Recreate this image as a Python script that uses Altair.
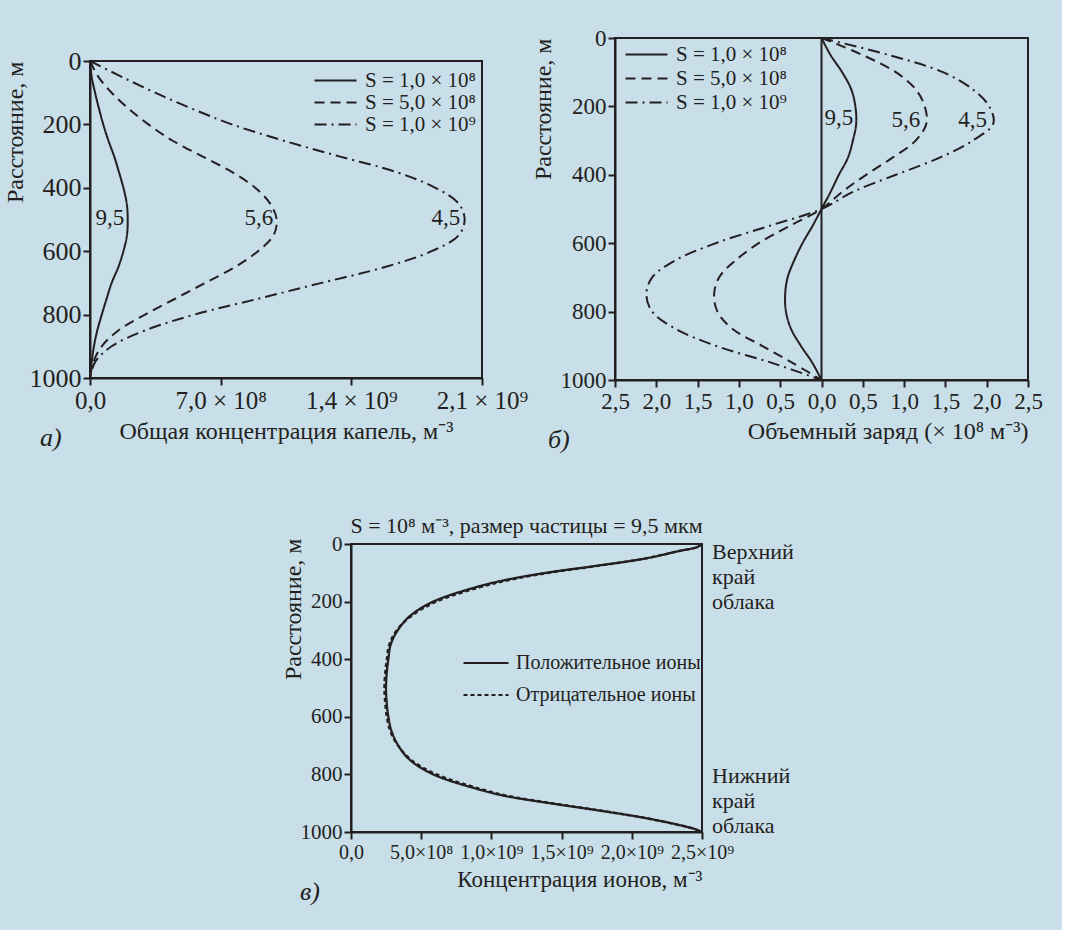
import altair as alt
import pandas as pd

FONT = "Liberation Serif"
INK = "#231f20"
BG = "#c8dee8"

# ---------------- data ----------------
heights = [0, 50, 100, 150, 200, 250, 300, 350, 400, 450, 500,
           550, 600, 650, 700, 750, 800, 850, 900, 950, 1000]

# Panel a: total droplet concentration, units of 1e8 m^-3
a_names = ["S = 1,0 × 10⁸", "S = 5,0 × 10⁸", "S = 1,0 × 10⁹"]
a_s1 = [0, 0.09, 0.27, 0.48, 0.71, 0.98, 1.29, 1.55, 1.79, 1.97, 2.02,
        1.98, 1.79, 1.52, 1.16, 0.89, 0.63, 0.39, 0.21, 0.09, 0]
a_s2 = [0, 0.45, 1.16, 2.06, 3.13, 4.38, 5.99, 7.6, 8.85, 9.65, 10.0,
        9.83, 9.0, 7.77, 6.17, 4.56, 2.95, 1.52, 0.63, 0.18, 0]
a_s3 = [0, 1.7, 3.49, 5.45, 7.6, 10.3, 13.3, 16.4, 18.5, 19.75, 20.07,
        19.75, 18.3, 15.8, 12.4, 9.0, 5.6, 2.95, 1.16, 0.27, 0]
a_ticks = [0, 7, 14, 21]
a_tick_labels = ["0,0", "7,0 × 10⁸", "1,4 × 10⁹", "2,1 × 10⁹"]
a_ann_text = ["9,5", "5,6", "4,5"]
a_ann_x = [1.07, 9.05, 19.07]
a_ann_y = [495, 495, 495]

# Panel b: space charge, units of 1e8 m^-3
b_s1 = [0, 0.11, 0.25, 0.36, 0.41, 0.42, 0.38, 0.32, 0.21, 0.11, 0,
        -0.11, -0.23, -0.33, -0.41, -0.44, -0.43, -0.37, -0.25, -0.11, 0]
b_s2 = [0, 0.50, 0.90, 1.14, 1.25, 1.27, 1.14, 0.86, 0.54, 0.25, 0,
        -0.39, -0.76, -1.04, -1.24, -1.30, -1.26, -1.08, -0.72, -0.35, 0]
b_s3 = [0, 0.82, 1.47, 1.83, 2.03, 2.08, 1.83, 1.43, 0.90, 0.38, 0,
        -0.64, -1.28, -1.77, -2.05, -2.12, -2.05, -1.77, -1.28, -0.60, 0]
b_ticks = [-2.5, -2.0, -1.5, -1.0, -0.5, 0.0, 0.5, 1.0, 1.5, 2.0, 2.5]
b_ann_text = ["9,5", "5,6", "4,5"]
b_ann_x = [0.21, 1.02, 1.83]
b_ann_y = [234, 239, 239]

# Panel c: ion concentration, units of 1e9 m^-3
c_names = ["Положительное ионы", "Отрицательное ионы"]
c_heights = [0, 10, 25, 50, 75, 100, 125, 150, 200, 250, 300, 350, 400, 450, 500,
             550, 600, 650, 700, 750, 800, 850, 875, 900, 925, 950, 975, 990, 1000]
c_pos = [2.5, 2.47, 2.33, 2.10, 1.76, 1.39, 1.10, 0.89, 0.586, 0.42, 0.332, 0.282, 0.266, 0.254, 0.249,
         0.254, 0.266, 0.289, 0.337, 0.42, 0.586, 0.894, 1.10, 1.416, 1.76, 2.08, 2.33, 2.45, 2.5]
c_neg = [2.5, 2.47, 2.33, 2.10, 1.77, 1.41, 1.13, 0.92, 0.61, 0.43, 0.325, 0.272, 0.255, 0.243, 0.238,
         0.243, 0.255, 0.28, 0.335, 0.43, 0.61, 0.92, 1.12, 1.43, 1.77, 2.08, 2.33, 2.45, 2.5]
c_ticks = [0, 0.5, 1.0, 1.5, 2.0, 2.5]
c_tick_labels = ["0,0", "5,0×10⁸", "1,0×10⁹", "1,5×10⁹", "2,0×10⁹", "2,5×10⁹"]
c_edge_top = ["Верхний", "край", "облака"]
c_edge_bottom = ["Нижний", "край", "облака"]

y_ticks = [0, 200, 400, 600, 800, 1000]
dash_range = [[1, 0], [10, 6], [12, 5, 2, 5]]


def label_expr(values, labels):
    expr = "''"
    for v, l in reversed(list(zip(values, labels))):
        expr = f"abs(datum.value - {v}) < 1e-6 ? '{l}' : ({expr})"
    return expr


def y_enc(label_size, title_x, title_y=0):
    return alt.Y("h:Q",
                 scale=alt.Scale(domain=[0, 1000], reverse=True, nice=False, zero=False),
                 axis=alt.Axis(values=y_ticks, format="d", title="Расстояние, м",
                               titleX=title_x, titleY=title_y, titleAngle=270,
                               titleAlign="right", titleBaseline="bottom",
                               labelFontSize=label_size, titleFontSize=24, tickSize=7,
                               labelPadding=2, grid=False, titleFontWeight="normal"))


def long_df(hs, series, names):
    rows = []
    for name, vals in zip(names, series):
        for h, v in zip(hs, vals):
            rows.append({"h": h, "v": v, "s": name})
    return pd.DataFrame(rows)


def tag(text, px, py):
    return alt.Chart(pd.DataFrame({"t": [text]})).mark_text(
        font=FONT, fontSize=26, fontStyle="italic", color=INK, align="left", baseline="middle"
    ).encode(text="t:N", x=alt.value(px), y=alt.value(py))


def legend(size, font_size, label_offset, row_pad, lx, ly):
    return alt.Legend(orient="none", legendX=lx, legendY=ly, title=None,
                      labelFontSize=font_size, symbolType="M-3,0H3", symbolSize=size,
                      symbolStrokeWidth=2, symbolStrokeColor=INK, labelOffset=label_offset,
                      rowPadding=row_pad, labelColor=INK, labelLimit=400)


def blank(w, h):
    return alt.Chart(pd.DataFrame({"v": [0]})).mark_point(opacity=0).encode(
        x=alt.X("v:Q", axis=None), y=alt.Y("v:Q", axis=None)
    ).properties(width=w, height=h, view=alt.ViewBackground(strokeOpacity=0))


def indep(c):
    return c.resolve_scale(strokeDash="independent", x="independent", y="independent"
                           ).resolve_legend(strokeDash="independent")


# ---------------- panel a ----------------
A_W, A_H = 392, 317
df_a = long_df(heights, [a_s1, a_s2, a_s3], a_names)
lines_a = alt.Chart(df_a).mark_line(color=INK, strokeWidth=2, interpolate="catmull-rom").encode(
    x=alt.X("v:Q", scale=alt.Scale(domain=[0, 21], nice=False),
            axis=alt.Axis(values=a_ticks, labelExpr=label_expr(a_ticks, a_tick_labels),
                          title="Общая концентрация капель, м⁻³", labelFontSize=25,
                          titleFontSize=24, tickSize=7, labelPadding=3, titlePadding=6,
                          grid=False, titleFontWeight="normal", labelFlush=False)),
    y=y_enc(26, -63),
    order="h:Q",
    strokeDash=alt.StrokeDash("s:N", scale=alt.Scale(domain=a_names, range=dash_range),
                              legend=legend(196, 21, 19, 0, 235, 9)),
)
ann_a = alt.Chart(pd.DataFrame({"t": a_ann_text, "v": a_ann_x, "h": a_ann_y})).mark_text(
    font=FONT, fontSize=23, color=INK).encode(x="v:Q", y="h:Q", text="t:N")
chart_a = alt.layer(lines_a, ann_a, tag("а)", -50, A_H + 60)).properties(
    width=A_W, height=A_H)
col_a = indep(alt.vconcat(blank(10, 9), chart_a, spacing=0))

# ---------------- panel b ----------------
B_W, B_H = 413, 342
df_b = long_df(heights, [b_s1, b_s2, b_s3], a_names)
lines_b = alt.Chart(df_b).mark_line(color=INK, strokeWidth=2, interpolate="catmull-rom").encode(
    x=alt.X("v:Q", scale=alt.Scale(domain=[-2.5, 2.5], nice=False),
            axis=alt.Axis(values=b_ticks,
                          labelExpr="replace(format(abs(datum.value), '.1f'), '.', ',')",
                          title="Объемный заряд (× 10⁸ м⁻³)", titleAnchor="end",
                          labelFontSize=23, titleFontSize=24, tickSize=7, labelPadding=3,
                          titlePadding=6, grid=False, titleFontWeight="normal", labelFlush=False)),
    y=y_enc(23, -60),
    order="h:Q",
    strokeDash=alt.StrokeDash("s:N", scale=alt.Scale(domain=a_names, range=dash_range),
                              legend=legend(196, 21, 19, 2, 21, 6)),
)
zero_b = alt.Chart(pd.DataFrame({"z": [0]})).mark_rule(color=INK, strokeWidth=2).encode(x="z:Q")
ann_b = alt.Chart(pd.DataFrame({"t": b_ann_text, "v": b_ann_x, "h": b_ann_y})).mark_text(
    font=FONT, fontSize=23, color=INK).encode(x="v:Q", y="h:Q", text="t:N")
chart_b = alt.layer(zero_b, lines_b, ann_b, tag("б)", -67, B_H + 60)).properties(
    width=B_W, height=B_H)

# ---------------- panel c ----------------
C_W, C_H = 351, 288
df_c = long_df(c_heights, [c_pos, c_neg], c_names)
lines_c = alt.Chart(df_c).mark_line(color=INK, strokeWidth=2.3, interpolate="catmull-rom").encode(
    x=alt.X("v:Q", scale=alt.Scale(domain=[0, 2.5], nice=False),
            axis=alt.Axis(values=c_ticks, labelExpr=label_expr(c_ticks, c_tick_labels),
                          title="Концентрация ионов, м⁻³", titleAnchor="end",
                          labelFontSize=20, titleFontSize=23, tickSize=7, labelPadding=3,
                          titlePadding=6, grid=False, titleFontWeight="normal", labelFlush=False)),
    y=y_enc(21, -46, -6),
    order="h:Q",
    strokeDash=alt.StrokeDash("s:N", scale=alt.Scale(domain=c_names, range=[[1, 0], [4, 3]]),
                              legend=legend(225, 20, 20, 12, 125, 109)),
)
edge_df = pd.DataFrame({"t": [c_edge_top, c_edge_bottom], "h": [0, 1000], "v": [2.5, 2.5],
                        "b": ["top", "bottom"]})
edge_base = alt.Chart(edge_df).encode(x="v:Q", y="h:Q", text="t")
edge_top = edge_base.transform_filter("datum.b == 'top'").mark_text(
    font=FONT, fontSize=22, color=INK, align="left", dx=10, lineHeight=25, baseline="top", dy=-2)
edge_bot = edge_base.transform_filter("datum.b == 'bottom'").mark_text(
    font=FONT, fontSize=22, color=INK, align="left", dx=10, lineHeight=25, baseline="top", dy=-66)
chart_c = alt.layer(lines_c, edge_top, edge_bot, tag("в)", -51, C_H + 60)).properties(
    width=C_W, height=C_H,
    title=alt.TitleParams("S = 10⁸ м⁻³, размер частицы = 9,5 мкм", fontSize=22,
                          fontWeight="normal", anchor="middle", frame="group", offset=-5,
                          color=INK))

row1 = indep(alt.hconcat(col_a, chart_b, spacing=1))
row2 = indep(alt.hconcat(blank(190, 10), chart_c, spacing=0))

chart = indep(alt.vconcat(row1, row2, spacing=60)).properties(
    background=BG, padding={"left": 2, "top": 26, "right": 18, "bottom": 24}
).configure(font=FONT).configure_view(
    stroke=INK, strokeWidth=2, fill=None
).configure_axis(
    domainColor=INK, tickColor=INK, labelColor=INK, titleColor=INK,
    domainWidth=2, tickWidth=2, labelFont=FONT, titleFont=FONT
).configure_legend(labelFont=FONT).configure_title(font=FONT, color=INK)

chart.save("out.html", embed_options={"renderer": "svg", "actions": False})
